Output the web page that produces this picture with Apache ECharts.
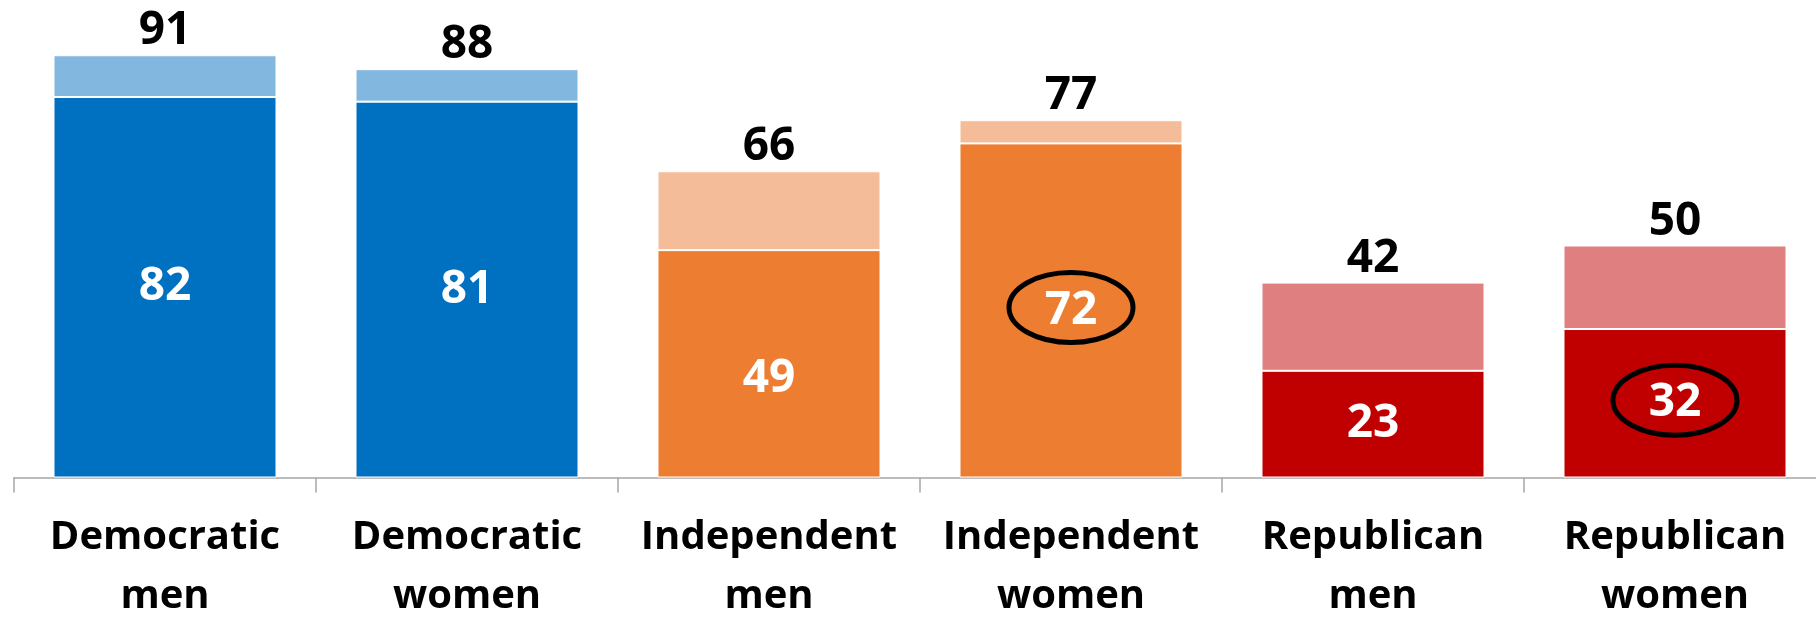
<!DOCTYPE html>
<html>
<head>
<meta charset="utf-8">
<script src="https://cdn.jsdelivr.net/npm/echarts@6/dist/echarts.min.js"></script>
<style>
  html, body { margin: 0; padding: 0; background: #fff; }
  #chart { width: 1816px; height: 620px; }
</style>
</head>
<body>
<div id="chart"></div>
<script>
const categories = ["Democratic\nmen", "Democratic\nwomen", "Independent\nmen", "Independent\nwomen", "Republican\nmen", "Republican\nwomen"];
const lowerValues = [82, 81, 49, 72, 23, 32];
const totalValues = [91, 88, 66, 77, 42, 50];
const circledIndex = [3, 5];

const darkColors = ["#0070C0", "#0070C0", "#ED7D31", "#ED7D31", "#C00000", "#C00000"];
const lightColors = ["#82B7DF", "#82B7DF", "#F5BC99", "#F5BC99", "#DF7F7F", "#DF7F7F"];

const font = "'Open Sans', 'Noto Sans', sans-serif";
const upperValues = totalValues.map((t, i) => t - lowerValues[i]);

const chart = echarts.init(document.getElementById("chart"));
const option = {
    backgroundColor: "#fff",
    animation: false,
    grid: { left: 14, right: -10, top: 13.5, bottom: 142.5, containLabel: false, outerBoundsMode: "none" },
    xAxis: {
        type: "category",
        data: categories,
        axisLine: { lineStyle: { color: "#A6A6A6", width: 1.5 } },
        axisTick: { show: true, interval: 0, alignWithLabel: false, length: 15, lineStyle: { color: "#A6A6A6", width: 1.5 } },
        axisLabel: {
            interval: 0,
            margin: 31,
            color: "#000",
            fontFamily: font,
            fontWeight: "bold",
            fontSize: 40,
            lineHeight: 59
        }
    },
    yAxis: { type: "value", min: 0, max: 100, show: false },
    series: [
        {
            name: "lower",
            type: "bar",
            stack: "total",
            barWidth: 223,
            data: lowerValues.map((v, i) => ({
                value: v,
                itemStyle: { color: darkColors[i] },
                label: i === 2 ? { offset: [0, 15] } : undefined
            })),
            itemStyle: { borderColor: "#fff", borderWidth: 1 },
            label: {
                show: true,
                position: "inside",
                color: "#fff",
                fontFamily: font,
                fontWeight: "bold",
                fontSize: 46
            }
        },
        {
            name: "upper",
            type: "bar",
            stack: "total",
            barWidth: 223,
            data: upperValues.map((v, i) => ({ value: v, itemStyle: { color: lightColors[i] } })),
            itemStyle: { borderColor: "#fff", borderWidth: 1 },
            label: {
                show: true,
                position: "top",
                distance: 1,
                color: "#000",
                fontFamily: font,
                fontWeight: "bold",
                fontSize: 46,
                formatter: p => totalValues[p.dataIndex]
            }
        }
    ]
};
chart.setOption(option);

// ellipses round the circled labels
const ellipses = circledIndex.map(i => {
    const pt = chart.convertToPixel({ gridIndex: 0 }, [i, lowerValues[i] / 2]);
    return {
        type: "ellipse",
        shape: { cx: pt[0], cy: pt[1] - 3, rx: 62, ry: 35 },
        style: { fill: null, stroke: "#000", lineWidth: 5 },
        z: 100
    };
});
chart.setOption({ graphic: ellipses });
window.addEventListener("resize", () => chart.resize());
</script>
</body>
</html>
